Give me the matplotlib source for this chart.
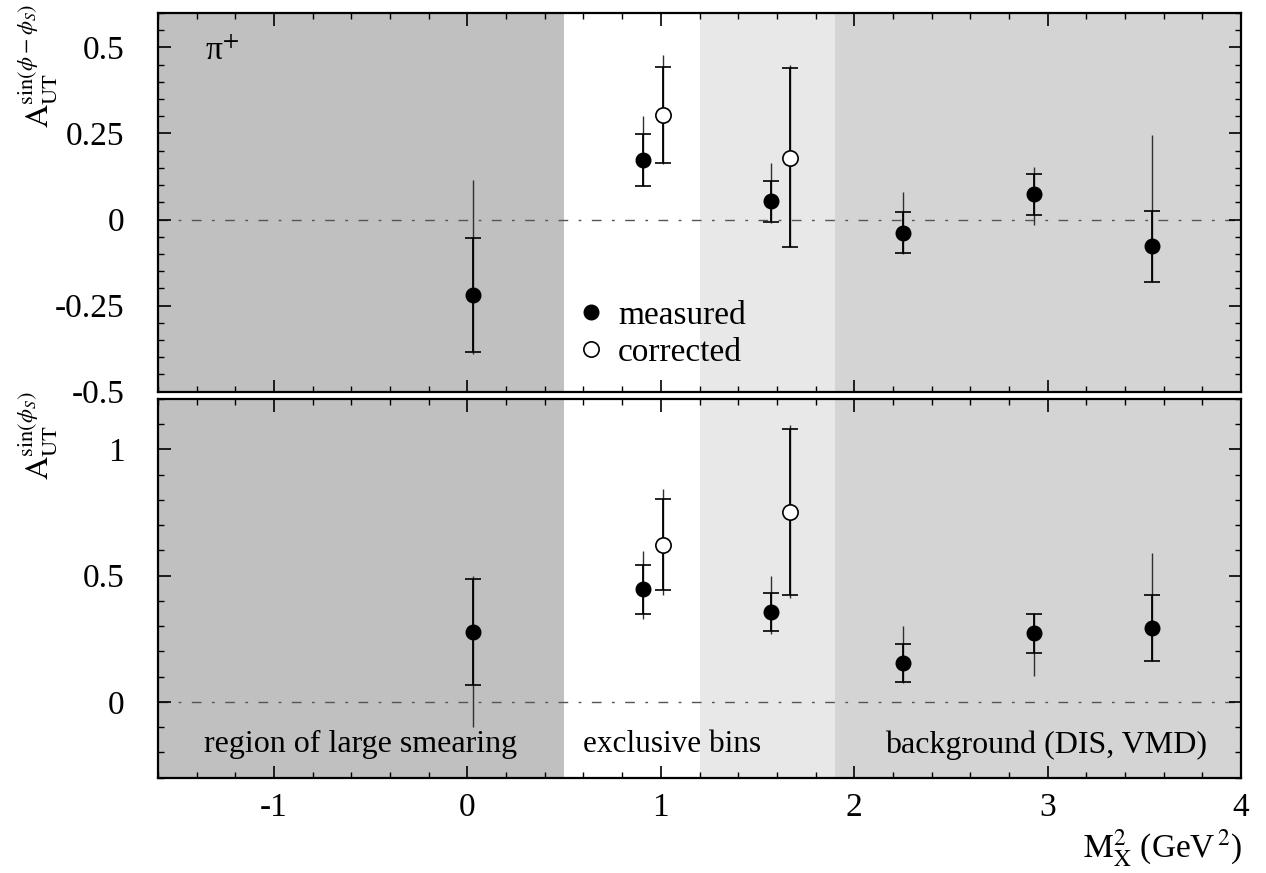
import matplotlib
matplotlib.use('Agg')
import matplotlib.pyplot as plt
from matplotlib.ticker import MultipleLocator, FixedLocator, FixedFormatter

plt.rcParams['font.family'] = ['Liberation Serif', 'DejaVu Serif']
plt.rcParams['mathtext.fontset'] = 'stix'
plt.rcParams['axes.unicode_minus'] = False

# M_X^2 positions of the bins
x_meas = [0.03, 0.91, 1.57, 2.25, 2.93, 3.54]
x_corr = [1.01, 1.67]

# top panel: sin(phi - phi_S) moment
top_meas = [-0.22, 0.173, 0.053, -0.038, 0.073, -0.077]
top_meas_stat = [0.165, 0.076, 0.06, 0.06, 0.06, 0.103]
top_meas_lo = [-0.39, 0.097, -0.01, -0.10, -0.017, -0.18]
top_meas_hi = [0.115, 0.302, 0.163, 0.08, 0.152, 0.245]
top_corr = [0.303, 0.18]
top_corr_stat = [0.14, 0.26]
top_corr_lo = [0.162, -0.08]
top_corr_hi = [0.478, 0.45]

# bottom panel: sin(phi_S) moment
bot_meas = [0.277, 0.446, 0.356, 0.156, 0.272, 0.292]
bot_meas_stat = [0.21, 0.098, 0.074, 0.075, 0.078, 0.13]
bot_meas_lo = [-0.10, 0.329, 0.268, 0.074, 0.104, 0.161]
bot_meas_hi = [0.50, 0.598, 0.499, 0.302, 0.349, 0.59]
bot_corr = [0.623, 0.752]
bot_corr_stat = [0.18, 0.33]
bot_corr_lo = [0.423, 0.41]
bot_corr_hi = [0.842, 1.097]

# shaded M_X^2 regions
region_edges = [-1.6, 0.5, 1.2, 1.9, 4.0]
region_colors = ['#c0c0c0', '#ffffff', '#e8e8e8', '#d4d4d4']

W, H = 1266, 873
fig = plt.figure(figsize=(W / 100, H / 100), dpi=100)
ax1 = fig.add_axes([158 / W, 1 - 391.7 / H, 1083 / W, 378.7 / H])
ax2 = fig.add_axes([158 / W, 1 - 777.7 / H, 1083 / W, 378.7 / H], sharex=ax1)

panels = [
    (ax1, top_meas, top_meas_stat, top_meas_lo, top_meas_hi,
     top_corr, top_corr_stat, top_corr_lo, top_corr_hi,
     (-0.5, 0.6), [-0.5, -0.25, 0, 0.25, 0.5], ['-0.5', '-0.25', '0', '0.25', '0.5'], 0.05),
    (ax2, bot_meas, bot_meas_stat, bot_meas_lo, bot_meas_hi,
     bot_corr, bot_corr_stat, bot_corr_lo, bot_corr_hi,
     (-0.3, 1.2), [0, 0.5, 1], ['0', '0.5', '1'], 0.1),
]

for (ax, ym, sm, lm, hm, yc, sc, lc, hc, ylim, yt, ytl, yminor) in panels:
    for i in range(len(region_colors)):
        ax.axvspan(region_edges[i], region_edges[i + 1], color=region_colors[i], lw=0, zorder=0)
    ax.axhline(0, color='#555555', lw=1.0, dashes=(7, 7.5, 2, 7.5), zorder=1)

    # outer (uncapped) ranges
    ax.vlines(x_meas, lm, hm, color='#303030', lw=1.0, zorder=2)
    ax.vlines(x_corr, lc, hc, color='#303030', lw=1.0, zorder=2)
    # statistical bars with caps
    ax.errorbar(x_meas, ym, yerr=sm, fmt='none', ecolor='black', elinewidth=1.3,
                capsize=5.5, capthick=1.2, zorder=3)
    ax.errorbar(x_corr, yc, yerr=sc, fmt='none', ecolor='black', elinewidth=1.3,
                capsize=5.5, capthick=1.2, zorder=3)
    ax.plot(x_meas, ym, 'o', color='black', ms=10.5, zorder=4, label='measured')
    ax.plot(x_corr, yc, 'o', mfc='white', mec='black', mew=1.2, ms=11, zorder=4,
            label='corrected')

    ax.set_xlim(-1.6, 4.0)
    ax.set_ylim(*ylim)
    ax.yaxis.set_major_locator(FixedLocator(yt))
    ax.yaxis.set_major_formatter(FixedFormatter(ytl))
    ax.yaxis.set_minor_locator(MultipleLocator(yminor))
    ax.xaxis.set_major_locator(MultipleLocator(1))
    ax.xaxis.set_minor_locator(MultipleLocator(0.2))
    ax.tick_params(which='both', direction='in', top=True, right=True, labelsize=24)
    ax.tick_params(which='major', length=9, width=1.2)
    ax.tick_params(which='minor', length=4.5, width=1.0)
    ax.tick_params(axis='y', pad=24)
    ax.tick_params(axis='x', pad=11)
    for sp in ax.spines.values():
        sp.set_linewidth(1.6)

ax1.tick_params(axis='x', labelbottom=False)

ax1.text(0.043, 0.9, 'π$^{+}$', transform=ax1.transAxes, fontsize=24,
         ha='left', va='center')
ax1.legend(loc='upper left', bbox_to_anchor=(0.371, 0.285), frameon=False,
           fontsize=24, borderpad=0, handlelength=0.9, handletextpad=0.35,
           labelspacing=0.2, markerscale=1.0)

ax2.text(-0.55, -0.17, 'region of large smearing', fontsize=23, ha='center', va='center')
ax2.text(0.6, -0.17, 'exclusive bins', fontsize=22.5, ha='left', va='center')
ax2.text(2.99, -0.17, 'background (DIS, VMD)', fontsize=23, ha='center', va='center')

fig.text(38 / W, 1 - 4 / H, r'$\mathrm{A}_{\mathrm{UT}}^{\mathrm{sin}(\phi-\phi_S)}$',
         rotation=90, fontsize=23, ha='center', va='top')
fig.text(38 / W, 1 - 392 / H, r'$\mathrm{A}_{\mathrm{UT}}^{\mathrm{sin}(\phi_S)}$',
         rotation=90, fontsize=23, ha='center', va='top')
fig.text(1242 / W, 1 - 848 / H, r'$\mathrm{M}_{\mathrm{X}}^{2}$ (GeV$^{\,2}$)',
         fontsize=24, ha='right', va='center')

fig.savefig('out.png', dpi=100)
